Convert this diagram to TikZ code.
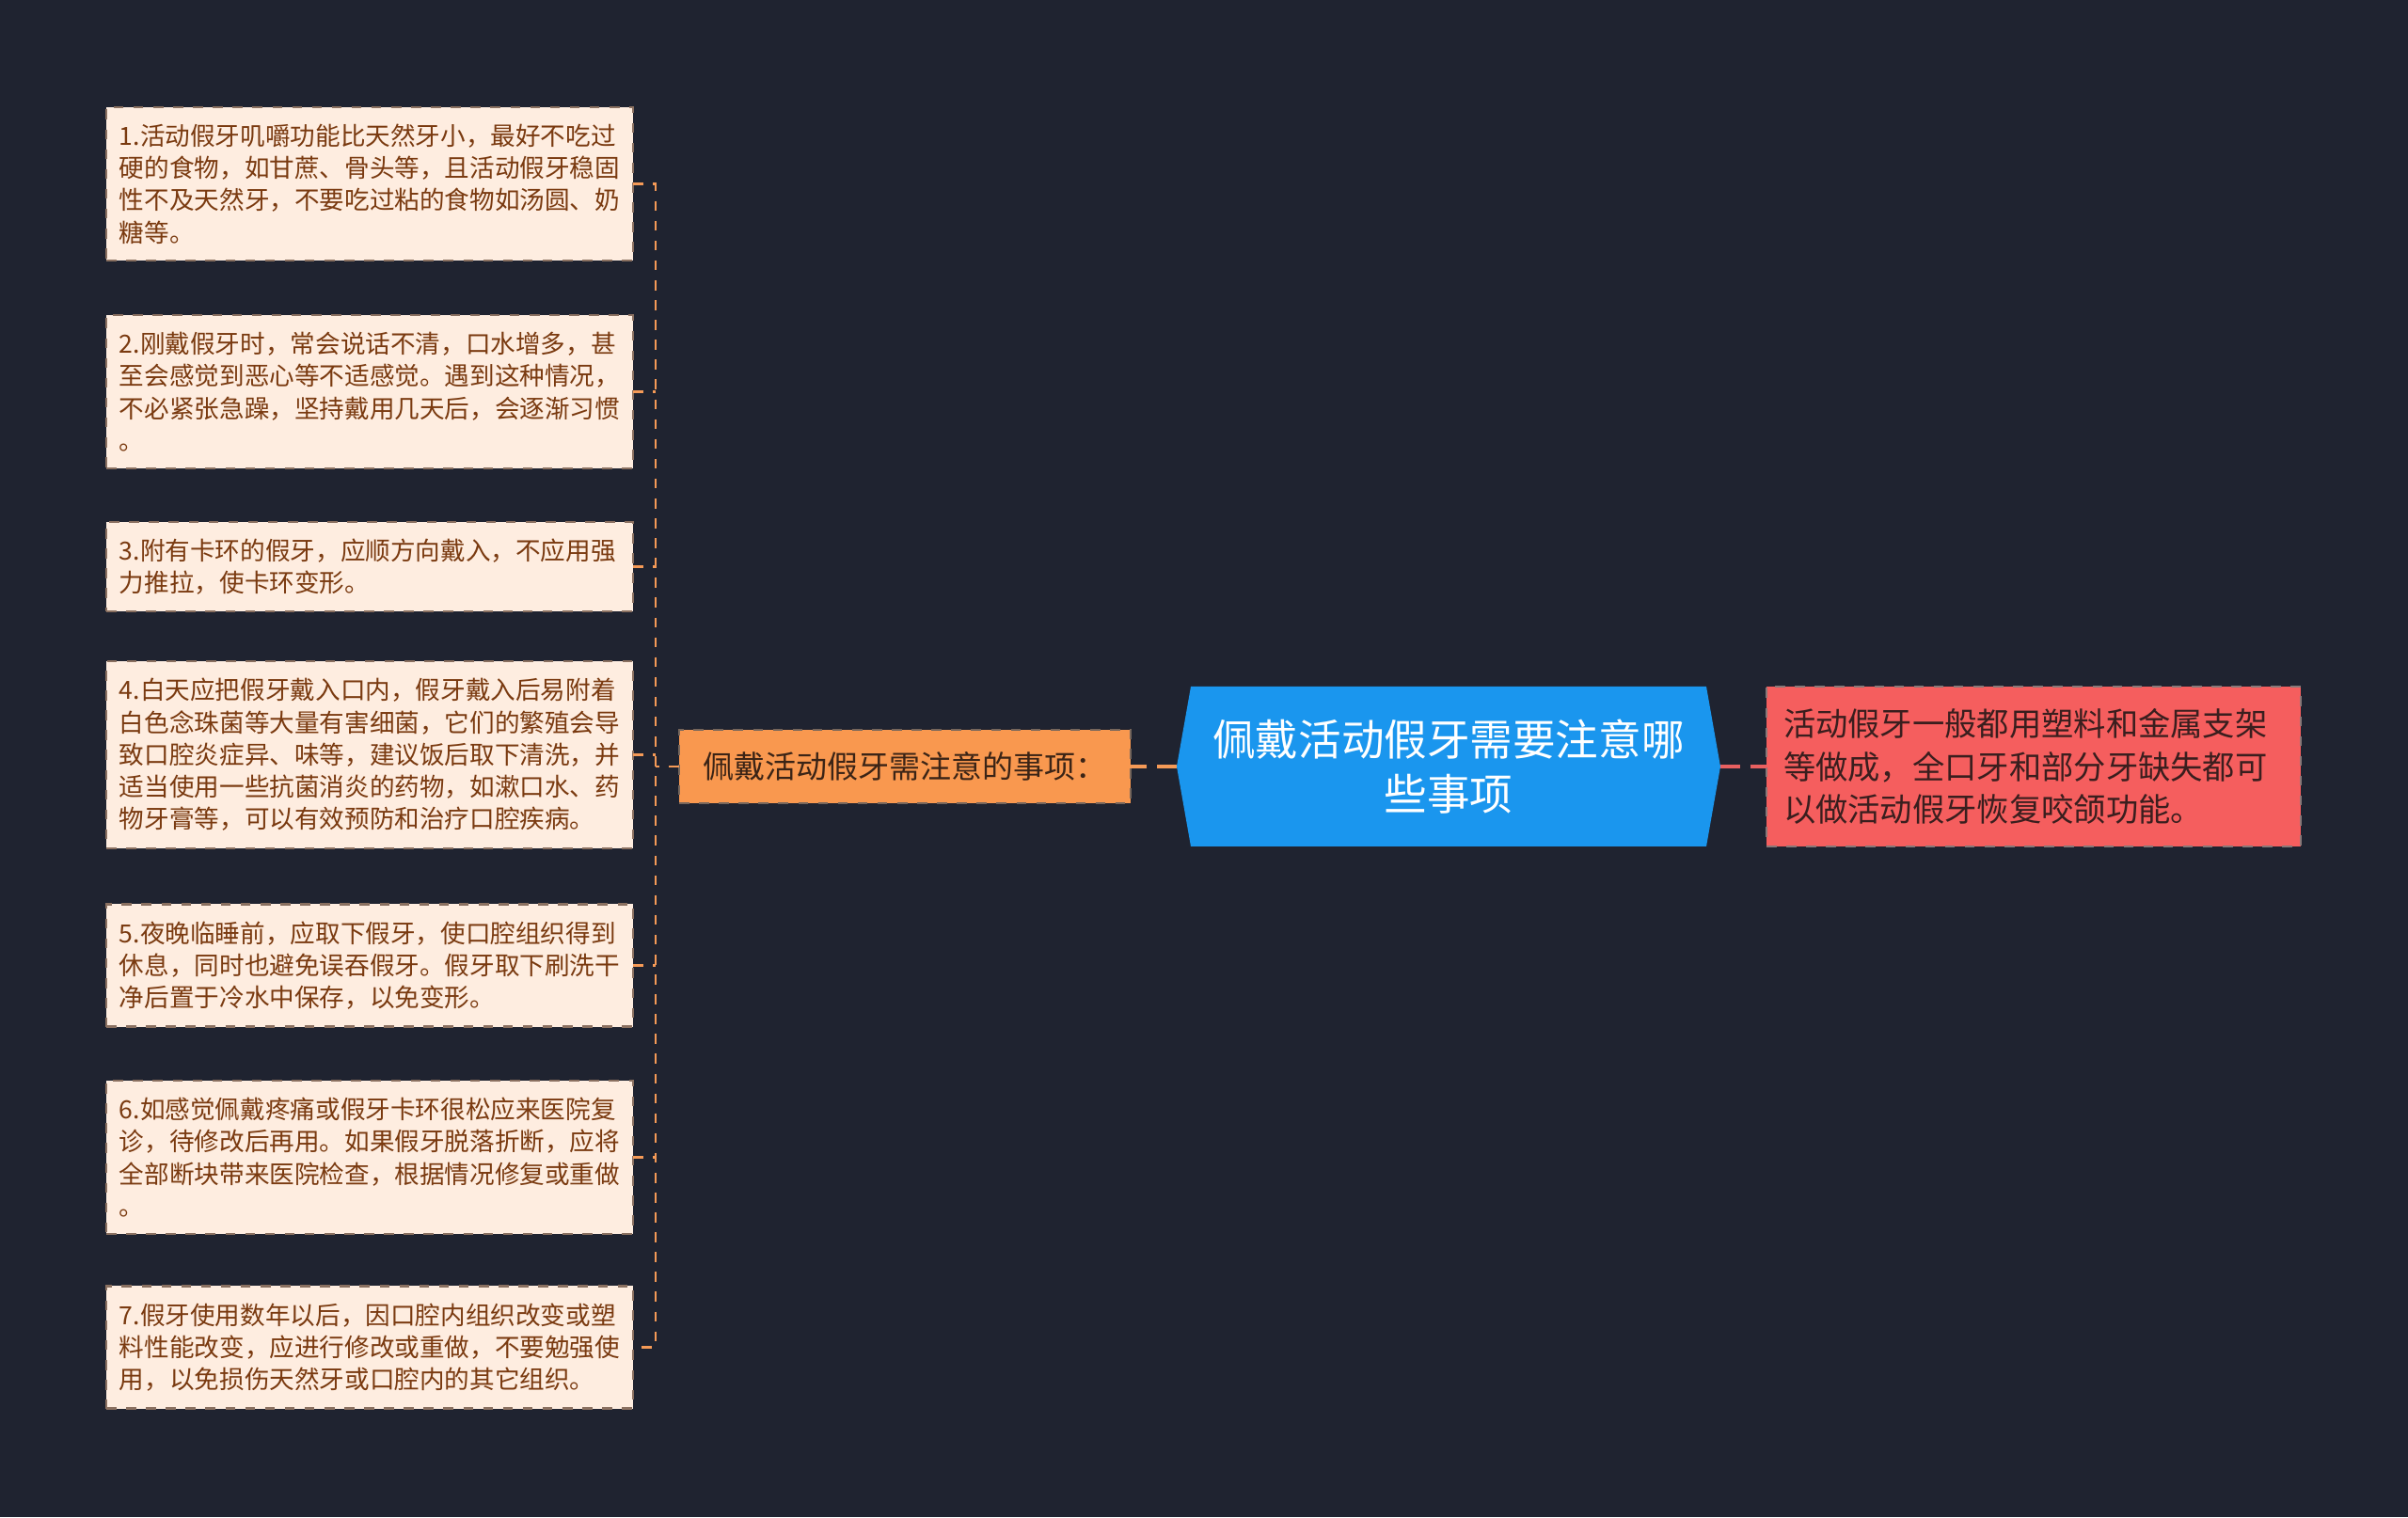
\documentclass[tikz,border=0pt]{standalone}
\usepackage{fontspec}
\newfontfamily\cjk{Noto Sans CJK SC}
\usetikzlibrary{shapes.symbols}
\definecolor{MindPaper}{HTML}{1F2330}
\definecolor{LeafFill}{HTML}{FEEDE0}
\definecolor{LeafInk}{HTML}{7A3A10}
\definecolor{LeafEdge}{HTML}{8A7060}
\definecolor{BranchFill}{HTML}{F9984F}
\definecolor{BranchInk}{HTML}{3B2416}
\definecolor{RootFill}{HTML}{1A96EE}
\definecolor{NoteFill}{HTML}{F55E5E}
\definecolor{NoteInk}{HTML}{3A1E1E}
\definecolor{LinkOrange}{HTML}{F59A57}
\definecolor{LinkRed}{HTML}{E86060}
\tikzset{
    mind/diagram/.style={
        line cap=butt,
        line join=miter,
        every node/.style={inner sep=0pt, outer sep=0pt}
    },
    mind/leaf/.style={
        font=\cjk\fontsize{7.57pt}{9.76pt}\selectfont,
        text=LeafInk, fill=LeafFill, draw=LeafEdge,
        line width=0.6pt, dashed,
        align=left, text width=5.32cm, minimum width=5.6cm,
        inner xsep=0.14cm, inner ysep=0.18cm
    },
    mind/branch/.style={
        font=\cjk\fontsize{9.4pt}{12pt}\selectfont,
        text=BranchInk, fill=BranchFill, draw=BranchInk!70,
        line width=0.6pt, dashed,
        minimum width=4.8cm, minimum height=0.78cm
    },
    mind/root/.style={
        font=\cjk\fontsize{12.97pt}{16.7pt}\selectfont,
        text=white, fill=RootFill, draw=none,
        signal, signal to=east and west, signal pointer angle=160,
        align=center, minimum width=5.78cm, minimum height=1.7cm
    },
    mind/note/.style={
        font=\cjk\fontsize{9.76pt}{13pt}\selectfont,
        text=NoteInk, fill=NoteFill, draw=NoteInk!60,
        line width=0.6pt, dashed,
        align=left, text width=5.32cm, minimum width=5.68cm,
        minimum height=1.7cm, inner xsep=0.18cm
    },
    mind/twig/.style={draw=LinkOrange, line width=0.6pt,
        dash pattern=on 3pt off 3pt},
    mind/bough/.style={draw=LinkOrange, line width=1pt,
        dash pattern=on 6pt off 3pt},
    mind/redbough/.style={draw=LinkRed, line width=1pt,
        dash pattern=on 6pt off 3pt}
}

\begin{document}
\begin{tikzpicture}[mind/diagram]
    \fill[MindPaper] (0,0) rectangle (25.6,16.13);
    \useasboundingbox (0,0) rectangle (25.6,16.13);

    % centre and the two sides
    \node[mind/root] (root) at (15.40,7.98)
        {佩戴活动假牙需要注意哪\\些事项};
    \node[mind/branch] (care) at (9.62,7.98) {佩戴活动假牙需注意的事项：};
    \node[mind/note] (intro) at (21.62,7.98)
        {活动假牙一般都用塑料和金属支架\\等做成，全口牙和部分牙缺失都可\\以做活动假牙恢复咬颌功能。};

    % the seven tips
    \node[mind/leaf] (tip1) at (3.93,14.175)
        {1.活动假牙叽嚼功能比天然牙小，最好不吃过\\硬的食物，如甘蔗、骨头等，且活动假牙稳固\\性不及天然牙，不要吃过粘的食物如汤圆、奶\\糖等。};
    \node[mind/leaf] (tip2) at (3.93,11.965)
        {2.刚戴假牙时，常会说话不清，口水增多，甚\\至会感觉到恶心等不适感觉。遇到这种情况，\\不必紧张急躁，坚持戴用几天后，会逐渐习惯\\。};
    \node[mind/leaf] (tip3) at (3.93,10.105)
        {3.附有卡环的假牙，应顺方向戴入，不应用强\\力推拉，使卡环变形。};
    \node[mind/leaf] (tip4) at (3.93,8.105)
        {4.白天应把假牙戴入口内，假牙戴入后易附着\\白色念珠菌等大量有害细菌，它们的繁殖会导\\致口腔炎症异、味等，建议饭后取下清洗，并\\适当使用一些抗菌消炎的药物，如漱口水、药\\物牙膏等，可以有效预防和治疗口腔疾病。};
    \node[mind/leaf] (tip5) at (3.93,5.865)
        {5.夜晚临睡前，应取下假牙，使口腔组织得到\\休息，同时也避免误吞假牙。假牙取下刷洗干\\净后置于冷水中保存，以免变形。};
    \node[mind/leaf] (tip6) at (3.93,3.825)
        {6.如感觉佩戴疼痛或假牙卡环很松应来医院复\\诊，待修改后再用。如果假牙脱落折断，应将\\全部断块带来医院检查，根据情况修复或重做\\。};
    \node[mind/leaf] (tip7) at (3.93,1.805)
        {7.假牙使用数年以后，因口腔内组织改变或塑\\料性能改变，应进行修改或重做，不要勉强使\\用，以免损伤天然牙或口腔内的其它组织。};

    % connectors
    \coordinate (trunk) at (6.97,7.98);
    \draw[mind/bough] (root.west) -- (care.east);
    \draw[mind/redbough] (root.east) -- (intro.west);
    \draw[mind/twig] (care.west) -- (trunk);
    \draw[mind/twig] (tip1.east) -- (tip1.east -| trunk)
        -- (tip7.east -| trunk) -- (tip7.east);
    \draw[mind/twig] (tip2.east) -- (tip2.east -| trunk);
    \draw[mind/twig] (tip3.east) -- (tip3.east -| trunk);
    \draw[mind/twig] (tip4.east) -- (tip4.east -| trunk);
    \draw[mind/twig] (tip5.east) -- (tip5.east -| trunk);
    \draw[mind/twig] (tip6.east) -- (tip6.east -| trunk);
\end{tikzpicture}
\end{document}
